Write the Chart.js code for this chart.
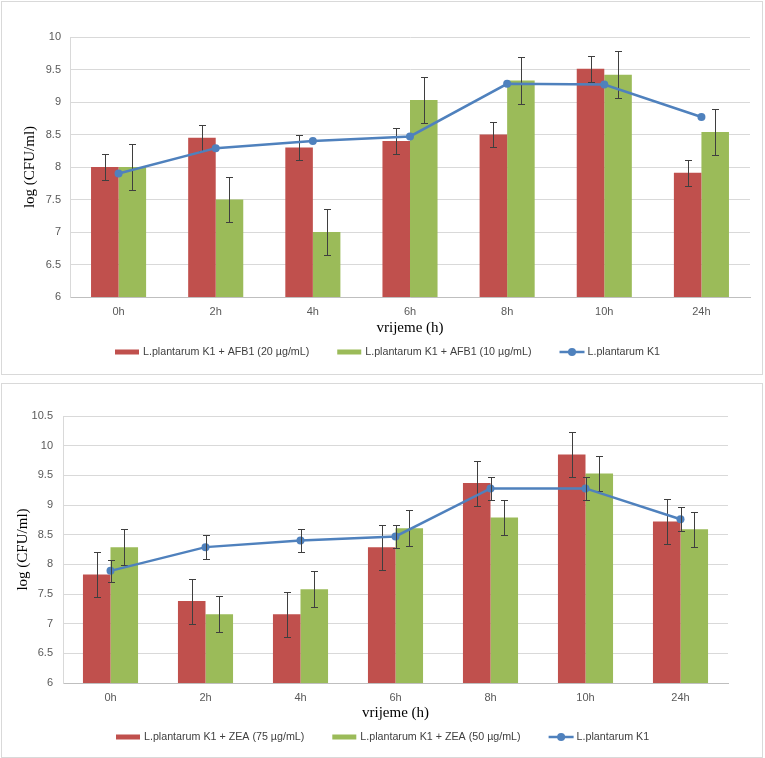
<!DOCTYPE html>
<html><head><meta charset="utf-8">
<script src="https://cdn.jsdelivr.net/npm/chart.js@4"></script>
<style>
body{margin:0;background:#fff;}
.panel{position:absolute;left:1px;border:1px solid #d9d9d9;background:#fff;}
#p1{top:1px;width:760px;height:372px;}
#p2{top:383px;width:760px;height:373px;}
canvas{display:block;}
</style></head><body>
<div class="panel" id="p1"><canvas id="c1" width="760" height="372"></canvas></div>
<div class="panel" id="p2"><canvas id="c2" width="760" height="373"></canvas></div>
<script>
// ---- data ----
const categories = ['0h', '2h', '4h', '6h', '8h', '10h', '24h'];

const labelsTop = ['L.plantarum K1 + AFB1 (20 µg/mL)', 'L.plantarum K1 + AFB1 (10 µg/mL)', 'L.plantarum K1'];
const afb20 = [8.0, 8.45, 8.3, 8.4, 8.5, 9.51, 7.91];
const afb20Err = [0.2, 0.2, 0.2, 0.2, 0.19, 0.2, 0.2];
const afb10 = [8.0, 7.5, 7.0, 9.03, 9.33, 9.42, 8.54];
const afb10Err = [0.35, 0.35, 0.35, 0.36, 0.36, 0.36, 0.35];
const k1Top = [7.9, 8.29, 8.4, 8.47, 9.28, 9.27, 8.77];

const labelsBottom = ['L.plantarum K1 + ZEA (75 µg/mL)', 'L.plantarum K1 + ZEA (50 µg/mL)', 'L.plantarum K1'];
const zea75 = [7.83, 7.38, 7.16, 8.29, 9.37, 9.85, 8.72];
const zea75Err = [0.38, 0.38, 0.38, 0.38, 0.38, 0.38, 0.38];
const zea50 = [8.29, 7.16, 7.58, 8.61, 8.79, 9.53, 8.59];
const zea50Err = [0.3, 0.3, 0.3, 0.3, 0.3, 0.3, 0.3];
const k1Bottom = [7.89, 8.29, 8.40, 8.47, 9.28, 9.28, 8.76];
const k1BottomErr = [0.19, 0.2, 0.2, 0.2, 0.2, 0.2, 0.2];

const yTitle = 'log (CFU/ml)';
const xTitle = 'vrijeme (h)';

// ---- styles ----
const RED = '#C0504D', GREEN = '#9BBB59', BLUE = '#4F81BD';
const SANS = '"Liberation Sans", Arial, sans-serif';
const SERIF = '"Liberation Serif", "Times New Roman", serif';

const errorBars = {
  id: 'errorBars',
  afterDatasetDraw(chart, args) {
    const ds = chart.data.datasets[args.index];
    if (!ds.errors) return;
    const ys = chart.scales.y, ctx = chart.ctx;
    ctx.save();
    ctx.strokeStyle = '#3f3f3f';
    ctx.lineWidth = 1;
    args.meta.data.forEach((el, i) => {
      const v = ds.data[i], e = ds.errors[i];
      const x = Math.round(el.x) + 0.5;
      const yt = Math.round(ys.getPixelForValue(v + e)) + 0.5;
      const yb = Math.round(ys.getPixelForValue(v - e)) + 0.5;
      ctx.beginPath();
      ctx.moveTo(x, yt); ctx.lineTo(x, yb);
      ctx.moveTo(x - 3.5, yt); ctx.lineTo(x + 3.5, yt);
      ctx.moveTo(x - 3.5, yb); ctx.lineTo(x + 3.5, yb);
      ctx.stroke();
    });
    ctx.restore();
  }
};

const customLegend = {
  id: 'customLegend',
  afterDraw(chart, args, opts) {
    const ctx = chart.ctx;
    ctx.save();
    ctx.font = '10.7px ' + SANS;
    ctx.textBaseline = 'middle';
    ctx.textAlign = 'left';
    let x = opts.startX;
    const y = opts.y;
    chart.data.datasets.forEach(ds => {
      if (ds.type === 'line') {
        ctx.strokeStyle = ds.borderColor;
        ctx.lineWidth = 2.5;
        ctx.beginPath(); ctx.moveTo(x, y); ctx.lineTo(x + 25, y); ctx.stroke();
        ctx.fillStyle = ds.borderColor;
        ctx.beginPath(); ctx.arc(x + 12.5, y, 4, 0, Math.PI * 2); ctx.fill();
      } else {
        ctx.fillStyle = ds.backgroundColor;
        ctx.fillRect(x, y - 2.5, 24, 5);
      }
      x += 28;
      ctx.fillStyle = '#404040';
      ctx.fillText(ds.label, x, y);
      x += ctx.measureText(ds.label).width + 28;
    });
    ctx.restore();
  }
};

function makeChart(id, cfg) {
  return new Chart(document.getElementById(id), {
    type: 'bar',
    data: {
      labels: categories,
      datasets: [
        { type: 'bar', label: cfg.labels[0], data: cfg.s1, errors: cfg.e1, backgroundColor: RED, borderWidth: 0, order: 1 },
        { type: 'bar', label: cfg.labels[1], data: cfg.s2, errors: cfg.e2, backgroundColor: GREEN, borderWidth: 0, order: 1 },
        { type: 'line', label: cfg.labels[2], data: cfg.s3, errors: cfg.e3, borderColor: BLUE, backgroundColor: BLUE,
          borderWidth: 2.5, pointRadius: 4, pointHoverRadius: 4, pointBackgroundColor: BLUE, pointBorderWidth: 0,
          tension: 0, order: 0 }
      ]
    },
    options: {
      responsive: false,
      animation: false,
      maintainAspectRatio: false,
      layout: { padding: cfg.padding },
      datasets: { bar: { categoryPercentage: cfg.catPct, barPercentage: 1 } },
      plugins: {
        legend: { display: false },
        tooltip: { enabled: false },
        customLegend: { startX: cfg.legendX, y: cfg.legendY }
      },
      scales: {
        x: {
          grid: { display: false, drawTicks: false },
          border: { display: true, color: '#bfbfbf', width: 1 },
          ticks: { color: '#595959', font: { family: SANS, size: 11 }, padding: cfg.xTickPad, maxRotation: 0 },
          title: { display: true, text: xTitle, color: '#000', font: { family: SERIF, size: 15 }, padding: { top: 0, bottom: 0 } },
          afterFit: s => { s.height = cfg.xHeight; }
        },
        y: {
          min: cfg.min, max: cfg.max,
          grid: { color: '#d9d9d9', drawTicks: false, lineWidth: 1 },
          border: { display: true, color: '#d9d9d9', width: 1 },
          ticks: { stepSize: 0.5, color: '#595959', font: { family: SANS, size: 11 }, padding: cfg.yTickPad,
                   callback: v => String(Math.round(v * 10) / 10) },
          title: { display: true, text: yTitle, color: '#000', font: { family: SERIF, size: 15 }, padding: { top: cfg.yTitlePad, bottom: 0 } },
          afterFit: s => { s.width = cfg.yWidth; }
        }
      }
    },
    plugins: [errorBars, customLegend]
  });
}

makeChart('c1', {
  labels: labelsTop, s1: afb20, e1: afb20Err, s2: afb10, e2: afb10Err, s3: k1Top, e3: null,
  min: 6, max: 10, padding: { top: 35, right: 12, bottom: 37, left: 0 },
  yWidth: 68, xHeight: 40, catPct: 0.567, xTickPad: 8, yTickPad: 9, yTitlePad: 19,
  legendX: 113, legendY: 350
});

makeChart('c2', {
  labels: labelsBottom, s1: zea75, e1: zea75Err, s2: zea50, e2: zea50Err, s3: k1Bottom, e3: k1BottomErr,
  min: 6, max: 10.5, padding: { top: 32, right: 34, bottom: 35, left: 0 },
  yWidth: 61, xHeight: 39, catPct: 0.58, xTickPad: 8, yTickPad: 10, yTitlePad: 12,
  legendX: 114, legendY: 353
});
</script>
</body></html>
